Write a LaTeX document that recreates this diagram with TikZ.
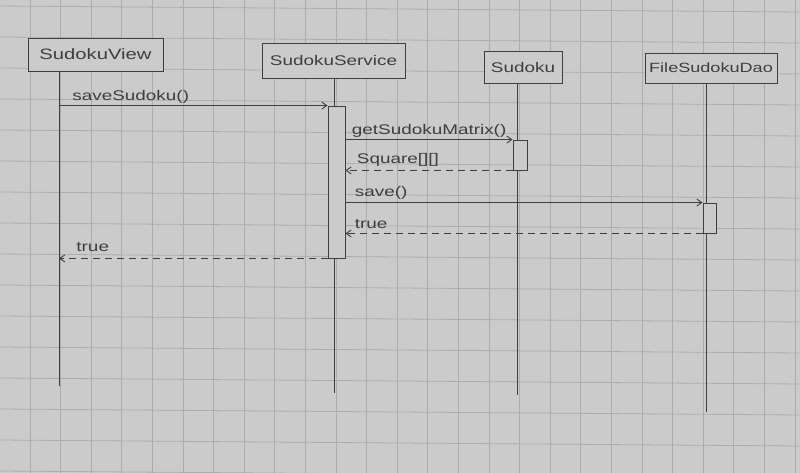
\documentclass[tikz,border=0pt]{standalone}
\usepackage{fontspec}
\usepackage{tikz}
\usetikzlibrary{arrows.meta}
\newfontfamily\hand[FakeStretch=1.35]{Liberation Sans}

\begin{document}
\begin{tikzpicture}[x=1pt,y=-1pt,thick,
  paper line/.style={draw=gridc,line width=0.8pt},
  head box/.style={draw=ink,fill=paper,line width=0.9pt,inner sep=0pt,text=ink,font=\hand\fontsize{14}{14}\selectfont},
  act box/.style={draw=ink,fill=paper,line width=0.9pt,inner sep=0pt},
  life/.style={draw=ink,line width=0.9pt},
  call/.style={draw=ink,line width=0.9pt,-{Straight Barb[length=5pt,width=7pt]}},
  reply/.style={call,dash pattern=on 7pt off 5pt},
  msg/.style={text=ink,font=\hand\fontsize{14}{14}\selectfont,inner sep=1pt}]
  \definecolor{paper}{RGB}{203,203,203}
  \definecolor{gridc}{RGB}{172,172,172}
  \definecolor{ink}{RGB}{62,62,62}

  \useasboundingbox (0,0) rectangle (800,473);
  \fill[paper] (0,0) rectangle (800,473);
  % squared paper
  \foreach \k in {-1,...,25}
    \draw[paper line] ({30+30.6*\k},0) -- ({30+30.6*\k},473);
  \foreach \k in {0,...,15}
    \draw[paper line] (0,{6+31*\k}) -- (800,{12+31*\k});

  \node[head box,minimum width=135,minimum height=33,font=\hand\fontsize{15}{15}\selectfont] (view) at (95.5,54.5) {SudokuView};
  \node[head box,minimum width=143,minimum height=35] (service) at (333.5,60.5) {SudokuService};
  \node[head box,minimum width=78,minimum height=32] (sudoku) at (523,67) {Sudoku};
  \node[head box,minimum width=132,minimum height=30,font=\hand\fontsize{13.4}{13.4}\selectfont] (dao) at (711,68) {FileSudokuDao};

  \coordinate (viewend) at (59,386);
  \coordinate (serviceend) at (334,393);
  \coordinate (sudokuend) at (517,395);
  \coordinate (daoend) at (706,412);

  \path[life] (view.south -| viewend) -- (viewend)
    (service.south -| serviceend) -- (serviceend)
    (sudoku.south -| sudokuend) -- (sudokuend)
    (dao.south -| daoend) -- (daoend);

  \node[act box,minimum width=17,minimum height=152] (act1) at (336.5,182) {};
  \node[act box,minimum width=14,minimum height=30] (act2) at (520,155) {};
  \node[act box,minimum width=13,minimum height=30] (act3) at (709.5,218) {};

  \draw[call] (viewend |- act1.north west) -- node[msg,pos=0,anchor=south west,xshift=12,yshift=1] {saveSudoku()} (act1.north west);
  \draw[call] (act1.east |- act2.north west) -- node[msg,pos=0,anchor=south west,xshift=5,yshift=1] {getSudokuMatrix()} (act2.north west);
  \draw[reply] (act2.south west) -- node[msg,pos=1,anchor=south west,xshift=10,yshift=3] {Square[][]} (act1.east |- act2.south west);
  \draw[call] (act1.east |- act3.north west) -- node[msg,pos=0,anchor=south west,xshift=8,yshift=2] {save()} (act3.north west);
  \draw[reply] (act3.south west) -- node[msg,pos=1,anchor=south west,xshift=8,yshift=3] {true} (act1.east |- act3.south west);
  \draw[reply] (act1.south west) -- node[msg,pos=1,anchor=south west,xshift=16,yshift=5] {true} (viewend |- act1.south west);
\end{tikzpicture}
\end{document}
